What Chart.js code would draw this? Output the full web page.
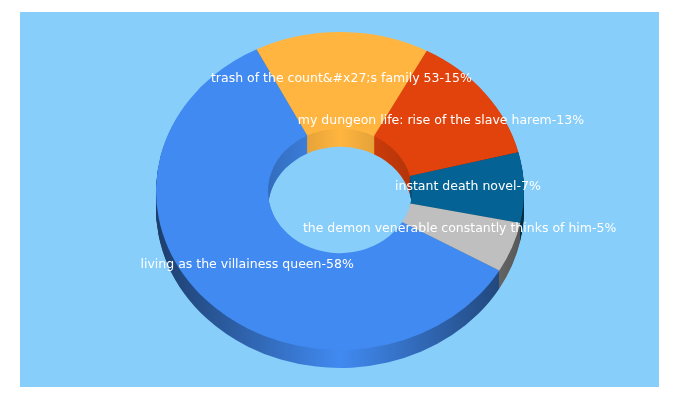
<!DOCTYPE html>
<html>
<head>
<meta charset="utf-8">
<script src="https://cdn.jsdelivr.net/npm/chart.js@4"></script>
<style>
html, body { margin: 0; padding: 0; background: #fff; }
#panel { position: absolute; left: 20px; top: 12px; width: 639px; height: 375px; background: #87CEFA; }
#pie3d { position: absolute; left: 0; top: 0; }
</style>
</head>
<body>
<div id="panel"></div>
<canvas id="pie3d" width="680" height="400"></canvas>
<script>
const pieLabels = [
  "living as the villainess queen",
  "trash of the count&#x27;s family 53",
  "my dungeon life: rise of the slave harem",
  "instant death novel",
  "the demon venerable constantly thinks of him"
];
const pieValues = [58, 15, 13, 7, 5];
const pieColors = ["#418AF1", "#FFB53F", "#E2420C", "#046394", "#BFBFBF"];

const squash = 0.864;   // ellipse height / width
const depth = 18;       // thickness of the ring in px
const faceY = 191;      // centre of the top face

function shade(hex, f) {
  const n = parseInt(hex.slice(1), 16);
  const r = Math.round((n >> 16 & 255) * f);
  const g = Math.round((n >> 8 & 255) * f);
  const b = Math.round((n & 255) * f);
  return "rgb(" + r + "," + g + "," + b + ")";
}

function tilt(ctx, arc, dy) {
  ctx.translate(arc.x, faceY + dy);
  ctx.scale(1, squash);
  ctx.translate(-arc.x, -arc.y);
}

const tiltPlugin = {
  id: 'tilt3d',
  beforeDatasetsDraw(chart) {
    const ctx = chart.ctx;
    const arcs = chart.getDatasetMeta(0).data;
    const first = arcs[0];
    const R = first.outerRadius;
    // side walls: same arcs stacked from the bottom up, lit in the middle
    const walls = arcs.map(function (arc, i) {
      const g = ctx.createLinearGradient(arc.x - R, 0, arc.x + R, 0);
      g.addColorStop(0, shade(pieColors[i], 0.45));
      g.addColorStop(0.5, shade(pieColors[i], 1));
      g.addColorStop(1, shade(pieColors[i], 0.45));
      return g;
    });
    for (let d = depth; d >= 1; d--) {
      ctx.save();
      tilt(ctx, first, d);
      arcs.forEach(function (arc, i) {
        const saved = arc.options;
        arc.options = Object.assign({}, saved, { backgroundColor: walls[i] });
        arc.draw(ctx);
        arc.options = saved;
      });
      ctx.restore();
    }
    ctx.save();
    tilt(ctx, first, 0);
  },
  afterDatasetsDraw(chart) {
    const ctx = chart.ctx;
    ctx.restore();
    const arcs = chart.getDatasetMeta(0).data;
    ctx.save();
    ctx.font = '12.5px "DejaVu Sans"';
    ctx.fillStyle = '#fff';
    ctx.textAlign = 'center';
    ctx.textBaseline = 'middle';
    arcs.forEach(function (arc, i) {
      const p = arc.getCenterPoint();
      const y = faceY + (p.y - arc.y) * squash;
      ctx.fillText(pieLabels[i] + '-' + pieValues[i] + '%', p.x, y - 2);
    });
    ctx.restore();
  }
};

new Chart("pie3d", {
  type: "doughnut",
  plugins: [tiltPlugin],
  data: {
    labels: pieLabels,
    datasets: [{
      data: pieValues,
      backgroundColor: pieColors,
      borderWidth: 0,
      clip: false
    }]
  },
  options: {
    responsive: false,
    animation: false,
    rotation: 120,
    cutout: '39.1%',
    layout: { padding: { top: 16, bottom: 16, left: 0, right: 0 } },
    plugins: {
      legend: { display: false },
      tooltip: { enabled: false }
    }
  }
});
</script>
</body>
</html>
